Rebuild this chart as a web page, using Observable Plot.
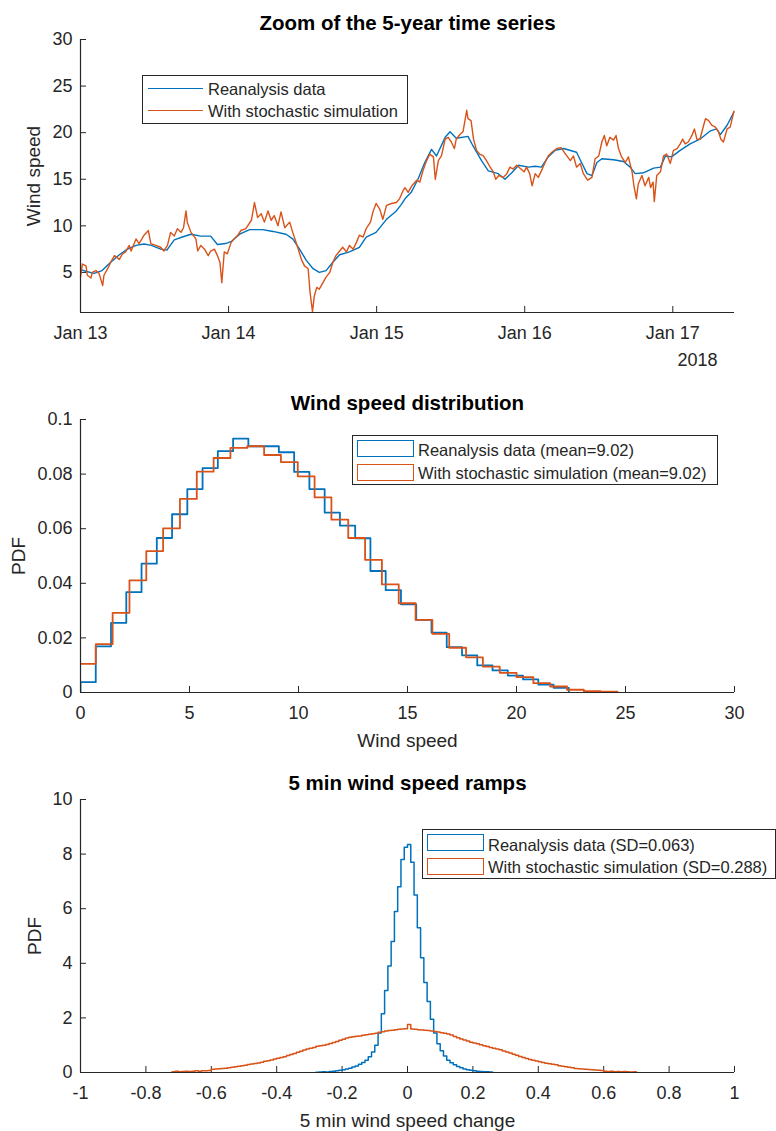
<!DOCTYPE html>
<html><head><meta charset="utf-8">
<script src="https://cdn.jsdelivr.net/npm/d3@7"></script>
<script src="https://cdn.jsdelivr.net/npm/@observablehq/plot@0.6"></script>
<style>
body{margin:0;background:#fff;}
#wrap{position:relative;width:776px;height:1131px;font-family:"Liberation Sans",Arial,Helvetica,sans-serif;}
#wrap svg{display:block;}
.legend{position:absolute;background:#fff;border:1px solid #262626;box-sizing:border-box;}
.legend .sw{position:absolute;box-sizing:border-box;}
.legend .lbl{position:absolute;font-size:16.5px;color:#262626;white-space:nowrap;line-height:20px;}
</style></head><body><div id="wrap"></div><script>
// ---------- data: panel 1 (time series zoom) ----------
const tsStart = "2018-01-13T00:00:00Z";
const tsEndHours = 106;
const tsDateTicks = ["2018-01-13", "2018-01-14", "2018-01-15", "2018-01-16", "2018-01-17"];
const tsYDomain = [0.7, 30];
const tsYTicks = [5, 10, 15, 20, 25, 30];
const tsYearLabel = "2018";
// hours after start, reanalysis (hourly, smooth)
const tsHoursReanalysis = [0, 1, 2.2, 3.5, 4.9, 6.3, 7.6, 9, 10.3, 11.5, 13, 14, 15.2, 16.5, 17.9, 19.5, 21.1, 22.2, 23.5, 24.4, 25.8, 27.4, 29.5, 31.2, 33.3, 34.4, 35.5, 36.6, 37.7, 38.7, 39.8, 40.9, 42, 43.6, 45.2, 46.3, 47.9, 49.6, 51.2, 52.0, 52.7, 53.6, 54.7, 55.8, 56.9, 57.7, 59.1, 59.9, 60.9, 62.8, 63.6, 65.0, 66.1, 67.7, 68.8, 69.9, 71.0, 72.6, 73.7, 74.7, 75.8, 76.9, 78.3, 80.4, 81.2, 82.1, 82.9, 83.7, 84.5, 86.4, 88.0, 89.1, 89.9, 91.3, 92.9, 94.0, 94.8, 95.8, 97.2, 98.8, 100.4, 102.1, 103.1, 103.7, 104.8, 105.9];
const tsReanalysis = [5.3, 5.1, 4.9, 5.2, 6.1, 6.9, 7.5, 7.9, 8.05, 7.9, 7.5, 7.4, 8.5, 8.8, 9.1, 8.9, 8.9, 8.0, 8.1, 8.3, 9.1, 9.6, 9.6, 9.4, 9.1, 8.6, 7.5, 6.3, 5.4, 5.0, 5.2, 6.1, 6.9, 7.2, 7.7, 8.8, 9.3, 10.7, 11.6, 12.3, 13.0, 13.6, 15.0, 16.8, 18.2, 17.5, 19.5, 20.1, 19.4, 19.6, 18.6, 17.0, 15.9, 15.6, 15.0, 15.7, 16.5, 16.3, 16.4, 16.3, 17.4, 18.1, 18.3, 17.9, 16.8, 15.6, 15.4, 16.8, 17.2, 17.1, 16.9, 16.3, 15.6, 15.7, 16.2, 16.3, 17.5, 17.4, 18.1, 18.8, 19.3, 20.2, 20.4, 19.8, 20.8, 22.2];
// hours after start, stochastic simulation
const tsHoursStochastic = [0.0, 0.3, 0.9, 1.1, 1.7, 1.9, 2.5, 3.0, 3.6, 3.8, 4.4, 4.9, 5.5, 6.3, 6.8, 7.3, 7.9, 8.2, 9.0, 9.5, 10.3, 11.0, 11.4, 12.2, 13.0, 13.5, 14.1, 14.6, 15.2, 15.7, 16.3, 16.7, 17.1, 17.3, 17.9, 18.7, 19.0, 19.5, 20.1, 20.7, 21.1, 21.7, 22.2, 22.6, 22.9, 23.3, 23.8, 24.4, 24.9, 25.5, 26.0, 26.8, 27.7, 28.2, 28.7, 29.3, 29.8, 30.4, 30.9, 31.4, 32.0, 32.5, 33.1, 33.9, 34.4, 35.2, 35.8, 36.3, 36.9, 37.2, 37.6, 37.9, 38.3, 38.7, 39.3, 39.8, 40.4, 40.9, 41.4, 42.0, 42.5, 43.1, 43.6, 44.2, 44.7, 45.2, 45.8, 46.3, 47.0, 47.4, 47.9, 48.5, 49.0, 49.6, 50.4, 51.2, 51.7, 52.3, 52.6, 53.1, 53.7, 54.5, 55.0, 55.5, 56.1, 56.6, 57.2, 57.5, 58.0, 58.5, 59.1, 59.6, 60.1, 60.6, 60.9, 61.5, 62.0, 62.6, 62.8, 63.3, 63.7, 64.2, 64.7, 65.3, 65.8, 66.4, 66.9, 67.3, 67.8, 68.5, 69.1, 69.6, 70.1, 70.7, 71.2, 71.9, 72.3, 72.8, 73.2, 73.7, 74.2, 74.7, 75.3, 75.8, 76.4, 77.2, 77.9, 78.5, 79.4, 79.9, 80.4, 81.0, 81.5, 82.2, 82.9, 83.4, 84.0, 84.5, 84.9, 85.3, 85.8, 86.4, 86.8, 87.2, 87.7, 88.3, 88.8, 89.4, 89.7, 90.1, 90.4, 91.0, 91.5, 92.1, 92.4, 92.8, 93.0, 93.4, 94.0, 94.5, 95.0, 95.6, 96.1, 96.7, 97.2, 97.6, 98.0, 98.5, 99.1, 99.5, 99.9, 100.4, 101.0, 101.3, 101.8, 102.3, 102.9, 103.4, 103.8, 104.2, 104.8, 105.3, 105.9];
const tsStochastic = [4.5, 5.9, 5.7, 4.7, 4.4, 5.0, 5.2, 4.9, 3.6, 4.7, 5.4, 6.1, 6.8, 6.4, 7.0, 7.2, 7.9, 7.3, 8.6, 8.1, 9.0, 9.5, 8.1, 7.9, 7.7, 7.3, 7.9, 9.3, 8.9, 9.7, 9.3, 9.8, 11.6, 10.4, 9.3, 8.6, 7.3, 7.9, 7.5, 6.8, 7.3, 7.5, 6.8, 6.1, 3.9, 7.2, 7.0, 8.2, 8.6, 9.0, 9.5, 9.7, 10.6, 12.5, 10.9, 11.3, 10.4, 11.6, 10.6, 11.1, 10.0, 11.5, 9.8, 10.4, 9.3, 7.7, 6.4, 5.7, 5.4, 2.9, 0.8, 2.5, 3.4, 3.2, 3.9, 4.5, 5.0, 6.1, 6.8, 7.3, 7.7, 7.2, 7.9, 7.5, 8.2, 9.0, 8.8, 9.7, 10.4, 11.5, 12.4, 11.8, 10.7, 12.2, 12.4, 12.5, 12.9, 13.8, 14.1, 13.6, 14.3, 14.9, 14.7, 15.9, 17.0, 17.7, 17.4, 15.0, 17.0, 17.5, 19.3, 19.5, 19.0, 18.3, 19.3, 19.8, 20.1, 22.4, 21.5, 21.3, 19.3, 18.1, 17.7, 17.5, 17.0, 16.3, 15.8, 15.0, 15.4, 15.2, 15.6, 16.3, 16.1, 16.5, 16.2, 15.8, 16.3, 15.6, 14.3, 15.6, 15.2, 15.9, 16.8, 17.5, 17.9, 18.3, 18.4, 17.8, 17.0, 17.5, 16.3, 16.7, 15.6, 14.9, 15.2, 17.2, 17.5, 19.0, 19.7, 18.6, 19.5, 19.2, 19.7, 18.3, 17.4, 16.8, 17.4, 15.8, 14.3, 12.9, 14.5, 15.4, 14.3, 15.2, 14.1, 14.7, 12.6, 15.4, 15.8, 17.5, 17.7, 16.7, 18.1, 18.3, 18.8, 19.3, 18.8, 19.0, 19.7, 20.4, 19.3, 19.3, 20.8, 21.5, 21.3, 20.8, 20.6, 20.1, 19.3, 19.0, 20.4, 20.6, 22.3];

// ---------- data: panel 2 (wind speed distribution, 32 bins each) ----------
const distXDomain = [0, 30];
const distYDomain = [0, 0.1];
const distXTicks = [0, 5, 10, 15, 20, 25, 30];
const distYTicks = [0, 0.02, 0.04, 0.06, 0.08, 0.1];
const distFirstEdgeReanalysis = 0, distBinWidthReanalysis = 0.70;
const distReanalysis = [0.0038, 0.0169, 0.0255, 0.0368, 0.0472, 0.0566, 0.0653, 0.0745, 0.0822, 0.0884, 0.0930, 0.0902, 0.0902, 0.0880, 0.0808, 0.0745, 0.0659, 0.0611, 0.0565, 0.0445, 0.0375, 0.0323, 0.0266, 0.0219, 0.0166, 0.0136, 0.0099, 0.0081, 0.0062, 0.0048, 0.0029, 0.0017];
const distFirstEdgeStochastic = -0.07, distBinWidthStochastic = 0.772;
const distStochastic = [0.0105, 0.0177, 0.0292, 0.0411, 0.0518, 0.0601, 0.0709, 0.0809, 0.0859, 0.0896, 0.0902, 0.0870, 0.0844, 0.0792, 0.0715, 0.0633, 0.0566, 0.0486, 0.0396, 0.0327, 0.0266, 0.0215, 0.0164, 0.0129, 0.0095, 0.0072, 0.0056, 0.0034, 0.0022, 0.0010, 0.0005, 0.0003];
const distMeanReanalysis = "9.02", distMeanStochastic = "9.02";

// ---------- data: panel 3 (5 min ramps) ----------
const rampXDomain = [-1, 1];
const rampYDomain = [0, 10];
const rampXTicks = [-1, -0.8, -0.6, -0.4, -0.2, 0, 0.2, 0.4, 0.6, 0.8, 1];
const rampYTicks = [0, 2, 4, 6, 8, 10];
const rampBinWidth = 0.01;
const rampFirstEdgeReanalysis = -0.28;
const rampReanalysis = [0.01, 0.02, 0.03, 0.02, 0.04, 0.05, 0.06, 0.08, 0.10, 0.13, 0.16, 0.20, 0.24, 0.30, 0.37, 0.45, 0.58, 0.75, 1.00, 1.45, 2.15, 3.00, 3.90, 4.80, 5.90, 6.80, 7.80, 8.25,
  8.35, 7.70, 6.50, 5.30, 4.20, 3.30, 2.60, 1.95, 1.45, 1.05, 0.80, 0.60, 0.45, 0.36, 0.28, 0.22, 0.17, 0.13, 0.10, 0.08, 0.06, 0.05, 0.04, 0.03, 0.03, 0.02];
const rampFirstEdgeStochastic = -0.72;
const rampStochastic = [0.03, 0.05, 0.03, 0.04, 0.05, 0.04, 0.05, 0.06, 0.05, 0.06, 0.06,
  0.07, 0.12, 0.13, 0.14, 0.15, 0.16, 0.17, 0.19, 0.21, 0.23, 0.25, 0.27, 0.29, 0.31, 0.33, 0.35, 0.38, 0.41, 0.43, 0.46, 0.49, 0.52, 0.55, 0.58, 0.62, 0.66, 0.70, 0.74, 0.78, 0.82, 0.86, 0.89, 0.92, 0.96, 0.98, 1.00, 1.03, 1.06, 1.10, 1.14, 1.18, 1.22, 1.26, 1.29, 1.31, 1.33, 1.34, 1.36, 1.38, 1.40, 1.42, 1.44, 1.47, 1.49, 1.52, 1.54, 1.55, 1.57, 1.58, 1.59, 1.60,
  1.76, 1.59, 1.58, 1.57, 1.56, 1.55, 1.54, 1.52, 1.50, 1.48, 1.46, 1.44, 1.41, 1.37, 1.32, 1.27, 1.23, 1.19, 1.15, 1.11, 1.08, 1.05, 1.02, 0.98, 0.95, 0.92, 0.89, 0.86, 0.83, 0.79, 0.75, 0.71, 0.67, 0.63, 0.59, 0.55, 0.51, 0.48, 0.45, 0.42, 0.39, 0.37, 0.34, 0.32, 0.30, 0.28, 0.25, 0.23, 0.21, 0.19, 0.17, 0.15, 0.14, 0.13, 0.12, 0.11, 0.10, 0.09, 0.08, 0.07,
  0.05, 0.04, 0.05, 0.03, 0.04, 0.03, 0.04, 0.03, 0.02, 0.03];
const rampSDReanalysis = "0.063", rampSDStochastic = "0.288";

// ---------- texts ----------
const titles = ["Zoom of the 5-year time series", "Wind speed distribution", "5 min wind speed ramps"];
const seriesNames = ["Reanalysis data", "With stochastic simulation"];
const xLabels = [null, "Wind speed", "5 min wind speed change"];
const yLabels = ["Wind speed", "PDF", "PDF"];

// ---------- style ----------
const BLUE = "#0072BD", ORANGE = "#D95319", AXIS = "#262626";
const FONT = '"Liberation Sans", Arial, Helvetica, sans-serif';
const TICK_FS = 18, LABEL_FS = 19, TITLE_FS = 20.5;

const t0 = new Date(tsStart).getTime();
const toDate = h => new Date(t0 + h * 3600000);
const tsRe = tsHoursReanalysis.map((h, i) => ({t: toDate(h), v: tsReanalysis[i]}));
const tsSt = tsHoursStochastic.map((h, i) => ({t: toDate(h), v: tsStochastic[i]}));

function stairs(firstEdge, width, values) {
  const pts = [{x: firstEdge, y: 0}];
  values.forEach((v, i) => pts.push({x: firstEdge + i * width, y: v}));
  pts.push({x: firstEdge + values.length * width, y: 0});
  return pts;
}

function common(i, xDomainStart, yDomainStart) {
  const m = [
    Plot.ruleY([yDomainStart], {stroke: AXIS, strokeWidth: 1.2}),
    Plot.ruleX([xDomainStart], {stroke: AXIS, strokeWidth: 1.2}),
    Plot.text([titles[i]], {text: d => d, frameAnchor: "top", textAnchor: "middle", lineAnchor: "middle", dy: -16, fontSize: TITLE_FS, fontWeight: "bold", fill: "#000"}),
    Plot.text([yLabels[i]], {text: d => d, frameAnchor: "left", textAnchor: "middle", lineAnchor: "middle", dx: [-47, -62, -46][i], rotate: -90, fontSize: LABEL_FS, fill: AXIS})
  ];
  if (xLabels[i]) m.push(Plot.text([xLabels[i]], {text: d => d, frameAnchor: "bottom", textAnchor: "middle", lineAnchor: "middle", dy: 48, fontSize: LABEL_FS, fill: AXIS}));
  return m;
}

const styleObj = {fontFamily: FONT, fontSize: TICK_FS + "px", color: AXIS, background: "#fff", overflow: "visible"};

const p1 = Plot.plot({
  width: 776, height: 380, marginTop: 39, marginBottom: 68, marginLeft: 80, marginRight: 42,
  style: styleObj,
  x: {type: "utc", domain: [toDate(0), toDate(tsEndHours)]},
  y: {domain: tsYDomain},
  marks: [
    Plot.axisX(tsDateTicks.map(d => new Date(d + "T00:00:00Z")), {tickSize: -6, tickPadding: 20, tickFormat: d3.utcFormat("%b %d"), label: null, fontSize: TICK_FS}),
    Plot.axisY(tsYTicks, {tickSize: -6, tickPadding: 14, tickFormat: d => String(d), label: null, fontSize: TICK_FS}),
    Plot.line(tsRe, {x: "t", y: "v", stroke: BLUE, strokeWidth: 1.4}),
    Plot.line(tsSt, {x: "t", y: "v", stroke: ORANGE, strokeWidth: 1.4}),
    Plot.text([tsYearLabel], {text: d => d, frameAnchor: "bottom-right", textAnchor: "middle", lineAnchor: "middle", dx: -37, dy: 48, fontSize: TICK_FS, fill: AXIS}),
    ...common(0, toDate(0), tsYDomain[0])
  ]
});

const p2 = Plot.plot({
  width: 776, height: 380, marginTop: 39, marginBottom: 68, marginLeft: 80, marginRight: 42,
  style: styleObj,
  x: {domain: distXDomain},
  y: {domain: distYDomain},
  marks: [
    Plot.axisX(distXTicks, {tickSize: -6, tickPadding: 20, tickFormat: d => String(d), label: null, fontSize: TICK_FS}),
    Plot.axisY(distYTicks, {tickSize: -6, tickPadding: 14, tickFormat: d => String(+d.toFixed(2)), label: null, fontSize: TICK_FS}),
    Plot.line(stairs(distFirstEdgeReanalysis, distBinWidthReanalysis, distReanalysis), {x: "x", y: "y", curve: "step-after", stroke: BLUE, strokeWidth: 1.8, clip: true}),
    Plot.line(stairs(distFirstEdgeStochastic, distBinWidthStochastic, distStochastic), {x: "x", y: "y", curve: "step-after", stroke: ORANGE, strokeWidth: 1.8, clip: true}),
    ...common(1, distXDomain[0], distYDomain[0])
  ]
});

const p3 = Plot.plot({
  width: 776, height: 371, marginTop: 39, marginBottom: 59, marginLeft: 80, marginRight: 42,
  style: styleObj,
  x: {domain: rampXDomain},
  y: {domain: rampYDomain},
  marks: [
    Plot.axisX(rampXTicks, {tickSize: -6, tickPadding: 20, tickFormat: d => String(d), label: null, fontSize: TICK_FS}),
    Plot.axisY(rampYTicks, {tickSize: -6, tickPadding: 14, tickFormat: d => String(d), label: null, fontSize: TICK_FS}),
    Plot.line(stairs(rampFirstEdgeReanalysis, rampBinWidth, rampReanalysis), {x: "x", y: "y", curve: "step-after", stroke: BLUE, strokeWidth: 1.5, clip: true}),
    Plot.line(stairs(rampFirstEdgeStochastic, rampBinWidth, rampStochastic), {x: "x", y: "y", curve: "step-after", stroke: ORANGE, strokeWidth: 1.5, clip: true}),
    ...common(2, rampXDomain[0], rampYDomain[0])
  ]
});

const wrap = document.getElementById("wrap");
wrap.append(p1, p2, p3);

// ---------- legends (HTML overlays) ----------
function addLegend(box, items) {
  const el = document.createElement("div");
  el.className = "legend";
  Object.assign(el.style, {left: box.left + "px", top: box.top + "px", width: box.width + "px", height: box.height + "px"});
  items.forEach(it => {
    const sw = document.createElement("div");
    sw.className = "sw";
    if (it.kind === "line") {
      Object.assign(sw.style, {left: "5px", top: (it.cy - 0.75) + "px", width: "55px", height: "0", borderTop: "1.5px solid " + it.color});
    } else {
      Object.assign(sw.style, {left: "4px", top: it.ry + "px", width: "57px", height: "17px", border: "1.8px solid " + it.color});
    }
    const lb = document.createElement("div");
    lb.className = "lbl";
    lb.textContent = it.text;
    Object.assign(lb.style, {left: "65px", top: (it.cy - 10) + "px"});
    el.append(sw, lb);
  });
  wrap.append(el);
}
addLegend({left: 142, top: 75, width: 266, height: 49}, [
  {kind: "line", color: BLUE, cy: 12.5, text: seriesNames[0]},
  {kind: "line", color: ORANGE, cy: 35, text: seriesNames[1]}
]);
addLegend({left: 352, top: 435, width: 366, height: 50}, [
  {kind: "rect", color: BLUE, ry: 3.5, cy: 14, text: `${seriesNames[0]} (mean=${distMeanReanalysis})`},
  {kind: "rect", color: ORANGE, ry: 27.5, cy: 36.5, text: `${seriesNames[1]} (mean=${distMeanStochastic})`}
]);
addLegend({left: 422, top: 829, width: 354, height: 50}, [
  {kind: "rect", color: BLUE, ry: 4, cy: 15, text: `${seriesNames[0]} (SD=${rampSDReanalysis})`},
  {kind: "rect", color: ORANGE, ry: 28, cy: 37, text: `${seriesNames[1]} (SD=${rampSDStochastic})`}
]);
</script></body></html>
